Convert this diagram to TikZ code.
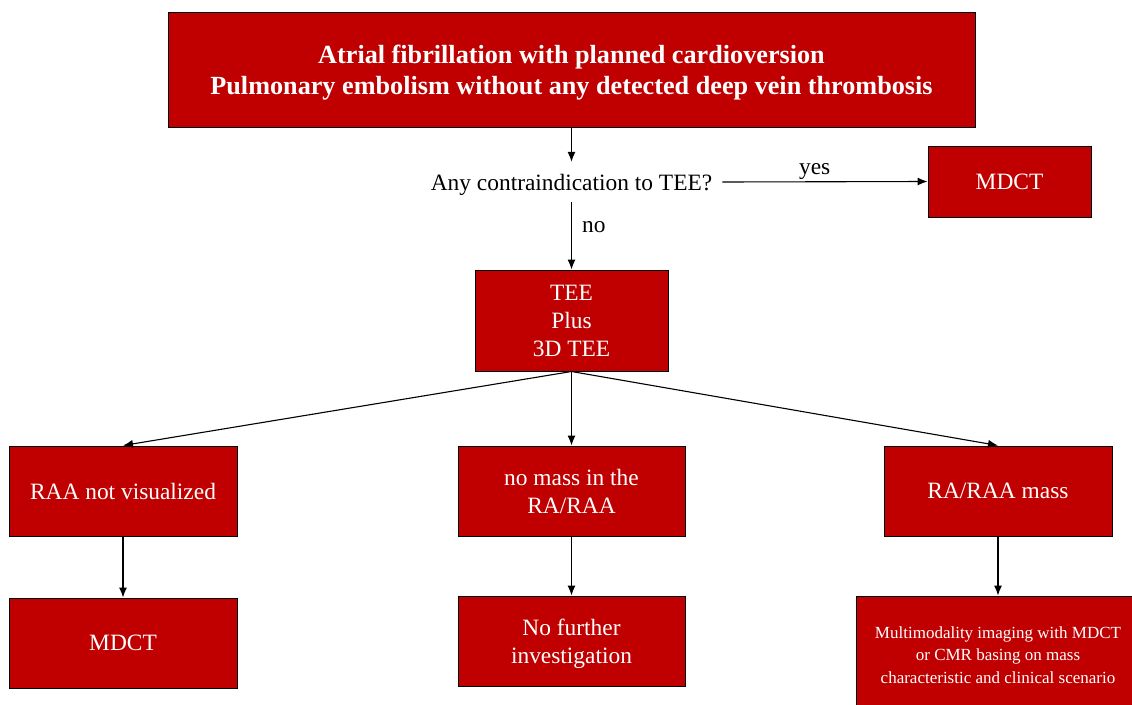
\documentclass[tikz,border=0pt]{standalone}
\usepackage{fontspec}
\setmainfont{Liberation Serif}
\usetikzlibrary{arrows.meta}
\definecolor{boxred}{RGB}{192,0,0}

\begin{document}
\begin{tikzpicture}[x=1pt, y=-1pt,
    box/.style={draw=black, line width=1pt, fill=boxred, text=white, align=center,
        inner sep=0pt, text depth=0pt, font=\fontsize{23.4}{28}\selectfont},
    plain/.style={align=center, inner sep=0pt, text depth=0pt, font=\fontsize{23.4}{28}\selectfont},
    arr/.style={-{Latex[length=10pt,width=8pt]}, line width=1.1pt}]
% Page size
\useasboundingbox (0,0) rectangle (1132,704);
\clip (0,0) rectangle (1132,704);

% Top box
\node[box, minimum width=807pt, minimum height=115pt,
      font=\fontsize{26.2}{31}\selectfont\bfseries] (start) at (571.5,69.5)
    {Atrial fibrillation with planned cardioversion\\
     Pulmonary embolism without any detected deep vein thrombosis};

% Question
\node[plain, inner xsep=10pt, minimum height=40pt] (ask) at (571.5,182)
    {Any contraindication to TEE?};
\node[box, minimum width=163pt, minimum height=71pt] (mdctA) at (1009.5,181.5) {MDCT};

% TEE box
\node[box, minimum width=193pt, minimum height=101pt] (tee) at (571.5,320.5)
    {TEE\\Plus\\3D TEE};

% Middle row
\node[box, minimum width=228pt, minimum height=90pt] (novis) at (123,491)
    {RAA not visualized};
\node[box, minimum width=227pt, minimum height=90pt] (nomass) at (571.5,491)
    {no mass in the\\RA/RAA};
\node[box, minimum width=228pt, minimum height=90pt] (mass) at (998,491)
    {RA/RAA mass};

% Bottom row
\node[box, minimum width=228pt, minimum height=90pt] (mdctB) at (123,643) {MDCT};
\node[box, minimum width=227pt, minimum height=90pt] (nofurther) at (571.5,641)
    {No further\\investigation};
\node[box, minimum width=284pt, minimum height=118pt,
      font=\fontsize{17}{22.5}\selectfont] (multi) at (998,655)
    {Multimodality imaging with MDCT\\
     or CMR basing on mass\\
     characteristic and clinical scenario};

% Connectors
\draw[arr] (start.south) -- (ask.north);
\draw[arr] (ask.east) -- node[plain, above=7pt, pos=0.45] {yes} (mdctA.west);
\draw[arr] (ask.south) -- node[plain, right=10pt, pos=0.37] {no} (tee.north);
\draw[arr] (tee.south) -- (novis.north);
\draw[arr] (tee.south) -- (nomass.north);
\draw[arr] (tee.south) -- (mass.north);
\draw[arr] (novis.south) -- (mdctB.north);
\draw[arr] (nomass.south) -- (nofurther.north);
\draw[arr] (mass.south) -- (multi.north);
\end{tikzpicture}
\end{document}
